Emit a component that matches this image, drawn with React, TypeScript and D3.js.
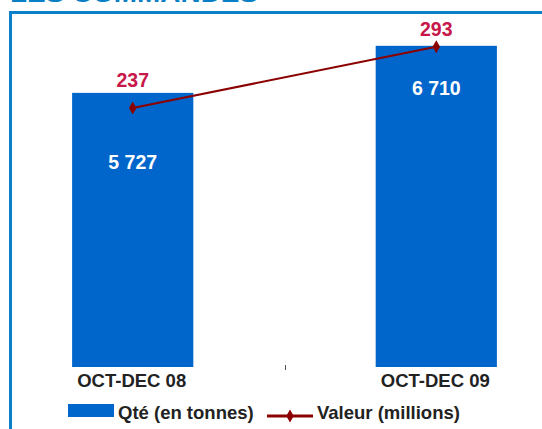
import React from "react";
import * as d3 from "d3";

const categories = ["OCT-DEC 08", "OCT-DEC 09"];
const quantites = [5727, 6710];
const valeurs = [237, 293];
const quantiteLabels = ["5 727", "6 710"];
const valeurLabels = ["237", "293"];
const legendLabels = ["Qté (en tonnes)", "Valeur (millions)"];
const titleText = "LES COMMANDES";

const W = 542;
const H = 429;
const FONT = "'Liberation Sans', Arial, sans-serif";
// label placement offsets (layout, px)
const qLabelDy = [76, 49];
const vLabelDy = [-21, -11];

export default function App() {
  const x = d3.scaleBand<string>().domain(categories).range([11.4, 557.6]).paddingInner(0.6007).paddingOuter(0.2);
  const y = d3.scaleLinear().domain([0, 7500]).range([367, 8]);
  const y2 = d3.scaleLinear().domain([0, 328.5]).range([367, 8]);
  const bw = x.bandwidth();
  const cx = (c: string) => (x(c) as number) + bw / 2;
  const line = d3
    .line<number>()
    .x((_, i) => cx(categories[i]))
    .y((v) => y2(v));
  const diamond = d3.symbol().type(d3.symbolDiamond).size(48)();

  return (
    <svg
      width={W}
      height={H}
      style={{ position: "absolute", left: 0, top: 0, background: "#fff" }}
      fontFamily={FONT}
    >
      <rect x={0} y={0} width={W} height={H} fill="#ffffff" />
      <text x={10} y={1.8} fontSize={24} fontWeight="bold" fill="#0a7fc6" textLength={248} lengthAdjust="spacingAndGlyphs">
        {titleText}
      </text>
      <path d={`M10.5,${H} V12.5 H${W}`} fill="none" stroke="#0a80c8" strokeWidth={3} />

      {categories.map((c, i) => (
        <rect key={c} x={x(c)} y={y(quantites[i])} width={bw} height={y(0) - y(quantites[i])} fill="#0066cc" />
      ))}

      <line x1={285.5} x2={285.5} y1={365} y2={370} stroke="#555" strokeWidth={1} />

      <path d={line(valeurs) || ""} fill="none" stroke="#8b0000" strokeWidth={2} />
      {valeurs.map((v, i) => (
        <path key={i} d={diamond || ""} transform={`translate(${cx(categories[i])},${y2(v)})`} fill="#8b0000" />
      ))}

      {categories.map((c, i) => (
        <text
          key={"v" + c}
          x={cx(c)}
          y={y2(valeurs[i]) + vLabelDy[i]}
          textAnchor="middle"
          fontSize={19.5}
          fontWeight="bold"
          fill="#c8174a"
        >
          {valeurLabels[i]}
        </text>
      ))}

      {categories.map((c, i) => (
        <text
          key={"q" + c}
          x={cx(c)}
          y={y(quantites[i]) + qLabelDy[i]}
          textAnchor="middle"
          fontSize={19.5}
          fontWeight="bold"
          fill="#ffffff"
        >
          {quantiteLabels[i]}
        </text>
      ))}

      {categories.map((c) => (
        <text key={"x" + c} x={cx(c) - 1} y={387} textAnchor="middle" fontSize={18.5} fontWeight="bold" fill="#222">
          {c}
        </text>
      ))}

      <rect x={68} y={404} width={46} height={13} fill="#0066cc" />
      <text x={118} y={419} fontSize={18.5} fontWeight="bold" fill="#222">
        {legendLabels[0]}
      </text>
      <line x1={267} x2={313} y1={416} y2={416} stroke="#8b0000" strokeWidth={3} />
      <path d={diamond || ""} transform="translate(290,416)" fill="#8b0000" />
      <text x={317} y={419} fontSize={18.5} fontWeight="bold" fill="#222">
        {legendLabels[1]}
      </text>
    </svg>
  );
}
